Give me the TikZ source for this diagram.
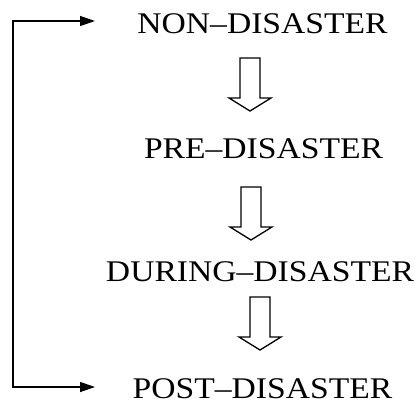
\documentclass[tikz,border=0pt]{standalone}
\usepackage{fontspec}
\setmainfont{Liberation Serif}[FakeStretch=1.12]
\usepackage{tikz}
\usetikzlibrary{arrows.meta, positioning}

\tikzset{
  pics/hollowdown/.style={code={
    \draw[line width=1.3pt, line join=miter, fill=white]
      (-10,0) -- (-10,40) -- (-21,40) -- (0,53) -- (21,40) -- (10,40) -- (10,0) -- cycle;
  }}
}

\begin{document}
\begin{tikzpicture}[x=1pt, y=-1pt,
    every node/.style={font=\fontsize{30}{36}\selectfont, inner sep=0pt, anchor=base}]
  \useasboundingbox (0,0) rectangle (419,404);

  \node (non)    at (262.5,34)  {NON–DISASTER};
  \node (pre)    at (263.5,158) {PRE–DISASTER};
  \node (during) at (260,281)   {DURING–DISASTER};
  \node (post)   at (262.5,398.5) {POST–DISASTER};

  \pic at (250,58)  {hollowdown};
  \pic at (251,187) {hollowdown};
  \pic at (260,297) {hollowdown};

  \coordinate (nonin)  at (95,21);
  \coordinate (postin) at (95,387);
  \coordinate (loopx)  at (13,200);
  \draw[line width=1.3pt, {Triangle[length=15pt, width=10pt]}-{Triangle[length=15pt, width=10pt]}]
    (nonin) -| (loopx) |- (postin);
\end{tikzpicture}
\end{document}
